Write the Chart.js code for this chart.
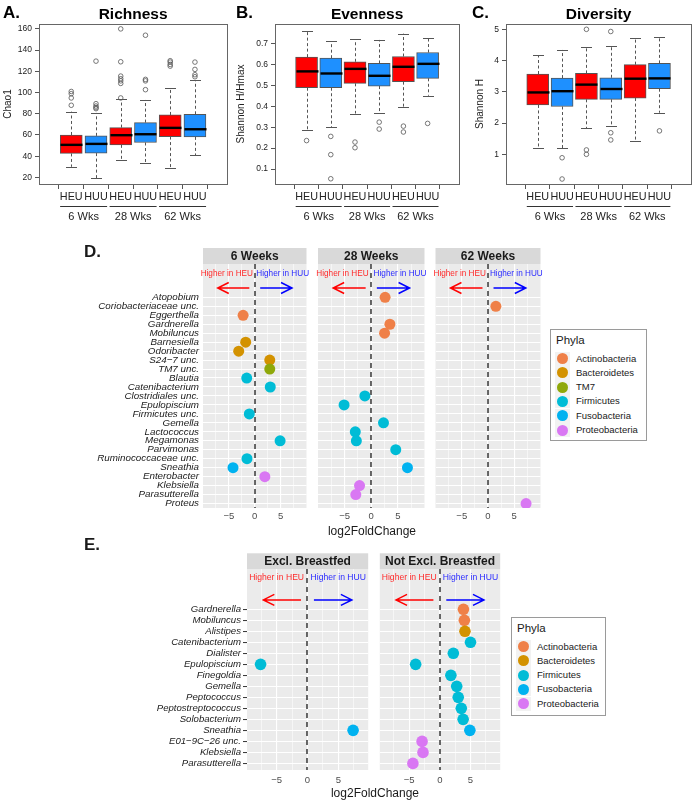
<!DOCTYPE html>
<html>
<head>
<meta charset="utf-8">
<script src="https://cdn.jsdelivr.net/npm/chart.js@4.4.0/dist/chart.umd.min.js"></script>
<style>
    body { margin: 0; background: #fff; width: 696px; height: 803px; position: relative; overflow: hidden;
           font-family: 'Liberation Sans', Arial, sans-serif; color: #1a1a1a; }
    canvas { position: absolute; }
    .txt { position: absolute; white-space: nowrap; z-index: 2; }
    .legend { position: absolute; border: 1px solid #9a9a9a; background: #fff; z-index: 2; }
    .legend .ttl { position: absolute; left: 5px; font-size: 11.5px; line-height: 14px; }
    .legend .key { position: absolute; left: 4px; width: 15px; height: 14px; background: #f2f2f2; }
    .legend .dot { position: absolute; left: 2px; top: 1.5px; width: 11px; height: 11px; border-radius: 50%; }
    .legend .lab { position: absolute; left: 25px; font-size: 9.5px; line-height: 12px; }
</style>
</head>
<body>
<canvas id="chartA" width="232" height="228" style="left:0;top:0"></canvas>
<canvas id="chartB" width="232" height="228" style="left:232px;top:0"></canvas>
<canvas id="chartC" width="232" height="228" style="left:464px;top:0"></canvas>
<canvas id="chartD1" width="312" height="300" style="left:0;top:240px"></canvas>
<canvas id="chartD2" width="118" height="300" style="left:312px;top:240px"></canvas>
<canvas id="chartD3" width="116" height="300" style="left:430px;top:240px"></canvas>
<canvas id="chartE1" width="374" height="250" style="left:0;top:545px"></canvas>
<canvas id="chartE2" width="132" height="250" style="left:374px;top:545px"></canvas>

<div class="txt" style="left:84px;top:243px;font-size:17px;font-weight:bold;line-height:18px">D.</div>
<div class="txt" style="left:84px;top:536px;font-size:17px;font-weight:bold;line-height:18px">E.</div>
<div class="txt" style="left:272px;top:523px;width:200px;text-align:center;font-size:12px;line-height:16px">log2FoldChange</div>
<div class="txt" style="left:275px;top:785px;width:200px;text-align:center;font-size:12px;line-height:16px">log2FoldChange</div>
<div class="legend" id="legendD" style="left:550px;top:329px;width:95px;height:110px"></div>
<div class="legend" id="legendE" style="left:511px;top:617px;width:93px;height:97px"></div>

<script>
// ====== DATA: ALPHA DIVERSITY BOXPLOTS ======
const boxGroups = ['HEU', 'HUU', 'HEU', 'HUU', 'HEU', 'HUU']
const weekLabels = ['6 Wks', '28 Wks', '62 Wks']

// [lower whisker, q1, median, q3, upper whisker]
const richnessStats = [
    [30, 42.6, 50.7, 60, 82],
    [19.4, 42.9, 51.6, 59.2, 80.8],
    [36, 50.7, 59.8, 67, 93.6],
    [33.5, 52.9, 60.7, 71.7, 93],
    [29, 58.5, 66.7, 78.9, 104.6],
    [41, 58.2, 65.4, 79.5, 111.5],
]
const richnessOutliers = [
    [88, 94.9, 98.9, 101],
    [84.8, 85.8, 87.3, 89.5, 129.6],
    [94.9, 108.6, 111, 113, 115.5, 129, 160],
    [102.7, 111, 112.4, 154],
    [124.9, 126.5, 128.7, 130],
    [114.9, 116.8, 121.8, 128.7],
]
const evennessStats = [
    [0.286, 0.488, 0.566, 0.634, 0.76],
    [0.299, 0.488, 0.556, 0.629, 0.71],
    [0.365, 0.509, 0.578, 0.612, 0.72],
    [0.368, 0.496, 0.545, 0.604, 0.716],
    [0.398, 0.517, 0.588, 0.637, 0.746],
    [0.45, 0.533, 0.602, 0.656, 0.725],
]
const evennessOutliers = [
    [0.236],
    [0.256, 0.169, 0.054],
    [0.229, 0.202],
    [0.324, 0.291],
    [0.305, 0.277],
    [0.318],
]
const diversityStats = [
    [1.19, 2.58, 2.98, 3.57, 4.17],
    [1.19, 2.53, 3.02, 3.44, 4.34],
    [1.83, 2.76, 3.23, 3.59, 4.45],
    [1.91, 2.76, 3.09, 3.45, 4.48],
    [1.42, 2.8, 3.42, 3.87, 4.73],
    [2.33, 3.1, 3.43, 3.91, 4.77],
]
const diversityOutliers = [
    [],
    [0.89, 0.21],
    [1.14, 1.0, 5.0],
    [1.69, 1.46, 4.93],
    [],
    [1.75],
]

// ====== DATA: DIFFERENTIAL ABUNDANCE ======
const phyla = ['Actinobacteria', 'Bacteroidetes', 'TM7', 'Firmicutes', 'Fusobacteria', 'Proteobacteria']
const phylaColors = ['#EF8048', '#D39200', '#8FA80A', '#00BCD6', '#00B2F0', '#D977F3']

const dSpecies = [
    'Atopobium', 'Coriobacteriaceae unc.', 'Eggerthella', 'Gardnerella', 'Mobiluncus',
    'Barnesiella', 'Odoribacter', 'S24\u22127 unc.', 'TM7 unc.', 'Blautia',
    'Catenibacterium', 'Clostridiales unc.', 'Epulopiscium', 'Firmicutes unc.', 'Gemella',
    'Lactococcus', 'Megamonas', 'Parvimonas', 'Ruminococcaceae unc.', 'Sneathia',
    'Enterobacter', 'Klebsiella', 'Parasutterella', 'Proteus',
]
const dPhylum = [
    'Actinobacteria', 'Actinobacteria', 'Actinobacteria', 'Actinobacteria', 'Actinobacteria',
    'Bacteroidetes', 'Bacteroidetes', 'Bacteroidetes', 'TM7', 'Firmicutes',
    'Firmicutes', 'Firmicutes', 'Firmicutes', 'Firmicutes', 'Firmicutes',
    'Firmicutes', 'Firmicutes', 'Firmicutes', 'Firmicutes', 'Fusobacteria',
    'Proteobacteria', 'Proteobacteria', 'Proteobacteria', 'Proteobacteria',
]
const dFacets = ['6 Weeks', '28 Weeks', '62 Weeks']
const dWeek6 = [
    ['Eggerthella', -2.25], ['Barnesiella', -1.75], ['Odoribacter', -3.1],
    ['S24\u22127 unc.', 2.9], ['TM7 unc.', 2.9], ['Blautia', -1.55],
    ['Catenibacterium', 3.0], ['Firmicutes unc.', -1.05], ['Megamonas', 4.9],
    ['Ruminococcaceae unc.', -1.5], ['Sneathia', -4.2], ['Enterobacter', 1.95],
]
const dWeek28 = [
    ['Atopobium', 2.6], ['Gardnerella', 3.5], ['Mobiluncus', 2.5],
    ['Clostridiales unc.', -1.2], ['Epulopiscium', -5.1], ['Gemella', 2.3],
    ['Lactococcus', -3.0], ['Megamonas', -2.8], ['Parvimonas', 4.6],
    ['Sneathia', 6.8], ['Klebsiella', -2.2], ['Parasutterella', -2.9],
]
const dWeek62 = [
    ['Coriobacteriaceae unc.', 1.5], ['Proteus', 7.25],
]

const eSpecies = [
    'Gardnerella', 'Mobiluncus', 'Alistipes', 'Catenibacterium', 'Dialister',
    'Epulopiscium', 'Finegoldia', 'Gemella', 'Peptococcus', 'Peptostreptococcus',
    'Solobacterium', 'Sneathia', 'E01\u22129C\u221226 unc.', 'Klebsiella', 'Parasutterella',
]
const ePhylum = [
    'Actinobacteria', 'Actinobacteria', 'Bacteroidetes', 'Firmicutes', 'Firmicutes',
    'Firmicutes', 'Firmicutes', 'Firmicutes', 'Firmicutes', 'Firmicutes',
    'Firmicutes', 'Fusobacteria', 'Proteobacteria', 'Proteobacteria', 'Proteobacteria',
]
const eFacets = ['Excl. Breastfed', 'Not Excl. Breastfed']
const eExcl = [
    ['Epulopiscium', -7.6], ['Sneathia', 7.4],
]
const eNotExcl = [
    ['Gardnerella', 3.85], ['Mobiluncus', 4.0], ['Alistipes', 4.1], ['Catenibacterium', 5.0],
    ['Dialister', 2.2], ['Epulopiscium', -3.95], ['Finegoldia', 1.8], ['Gemella', 2.75],
    ['Peptococcus', 3.0], ['Peptostreptococcus', 3.5], ['Solobacterium', 3.8], ['Sneathia', 4.9],
    ['E01\u22129C\u221226 unc.', -2.9], ['Klebsiella', -2.75], ['Parasutterella', -4.4],
]
const foldTicks = [-7.5, -5, -2.5, 0, 2.5, 5, 7.5]

// ====== CHART DEFAULTS ======
const FONT = "'Liberation Sans', Arial, sans-serif"
Chart.defaults.font.family = FONT
Chart.defaults.animation = false
Chart.defaults.plugins.legend.display = false
Chart.defaults.plugins.tooltip.enabled = false

const minus = (v) => (v < 0 ? '\u2212' + Math.abs(v) : String(v))

// ====== BOXPLOT DECORATION (whiskers, medians, frame, titles) ======
const boxDeco = {
    id: 'boxDeco',
    afterDatasetsDraw(chart, args, o) {
        const { ctx } = chart
        const x = chart.scales.x
        const y = chart.scales.y
        ctx.save()
        o.stats.forEach((s, i) => {
            const px = Math.round(x.getPixelForValue(i + 1)) + 0.5
            ctx.strokeStyle = '#555'
            ctx.lineWidth = 1
            ctx.setLineDash([3, 2.5])
            ctx.beginPath()
            ctx.moveTo(px, y.getPixelForValue(s[3]))
            ctx.lineTo(px, y.getPixelForValue(s[4]))
            ctx.moveTo(px, y.getPixelForValue(s[1]))
            ctx.lineTo(px, y.getPixelForValue(s[0]))
            ctx.stroke()
            ctx.setLineDash([])
            ctx.beginPath()
            for (const v of [s[0], s[4]]) {
                const py = Math.round(y.getPixelForValue(v)) + 0.5
                ctx.moveTo(px - 5.5, py)
                ctx.lineTo(px + 5.5, py)
            }
            ctx.stroke()
            ctx.strokeStyle = '#000'
            ctx.lineWidth = 2.4
            ctx.beginPath()
            const my = y.getPixelForValue(s[2])
            ctx.moveTo(px - 11, my)
            ctx.lineTo(px + 11, my)
            ctx.stroke()
        })
        ctx.restore()
    },
    afterDraw(chart, args, o) {
        const { ctx, chartArea: a } = chart
        const x = chart.scales.x
        ctx.save()
        ctx.strokeStyle = '#666'
        ctx.lineWidth = 1
        ctx.strokeRect(Math.round(a.left) + 0.5, Math.round(a.top) + 0.5,
            Math.round(a.right - a.left), Math.round(a.bottom - a.top))
        ctx.fillStyle = '#000'
        ctx.textBaseline = 'middle'
        ctx.font = 'bold 17px ' + FONT
        ctx.textAlign = 'left'
        ctx.fillText(o.letter, o.letterX, 13)
        ctx.font = 'bold 15.5px ' + FONT
        ctx.textAlign = 'center'
        ctx.fillText(o.title, (a.left + a.right) / 2, 15)
        ctx.font = '11px ' + FONT
        ctx.fillStyle = '#222'
        ctx.strokeStyle = '#333'
        weekLabels.forEach((w, g) => {
            const c = 2 * g + 1.5
            const x0 = x.getPixelForValue(c - 0.95)
            const x1 = x.getPixelForValue(c + 0.95)
            ctx.beginPath()
            ctx.moveTo(x0, a.bottom + 22.5)
            ctx.lineTo(x1, a.bottom + 22.5)
            ctx.stroke()
            ctx.fillText(w, x.getPixelForValue(c), a.bottom + 33)
        })
        ctx.restore()
    },
}

function boxChart(id, cfg) {
    const boxes = cfg.stats.map((s, i) => ({ x: i + 1, y: [s[1], s[3]] }))
    const outs = []
    cfg.outliers.forEach((arr, i) => arr.forEach((v) => outs.push({ x: i + 1, y: v })))
    return new Chart(document.getElementById(id), {
        type: 'bar',
        data: {
            datasets: [
                {
                    type: 'bar',
                    data: boxes,
                    backgroundColor: boxGroups.map((g) => (g === 'HEU' ? '#FF0000' : '#1E90FF')),
                    borderColor: '#555',
                    borderWidth: 1,
                    borderSkipped: false,
                    barThickness: 22,
                },
                {
                    type: 'scatter',
                    data: outs,
                    pointRadius: 2.3,
                    borderWidth: 0.8,
                    borderColor: '#555',
                    backgroundColor: 'rgba(0,0,0,0)',
                },
            ],
        },
        options: {
            responsive: false,
            layout: { padding: { left: 0, top: 24, right: cfg.padRight, bottom: 4 } },
            plugins: {
                boxDeco: { stats: cfg.stats, title: cfg.title, letter: cfg.letter, letterX: cfg.letterX },
            },
            scales: {
                x: {
                    type: 'linear',
                    min: 0.33,
                    max: 6.67,
                    afterFit: (s) => { s.height = 40 },
                    afterBuildTicks: (s) => { s.ticks = boxGroups.map((_, i) => ({ value: i + 1 })) },
                    ticks: {
                        callback: (v) => boxGroups[Math.round(v) - 1],
                        autoSkip: false, maxRotation: 0, padding: 2,
                        color: '#222', font: { size: 10.8 },
                    },
                    grid: { drawOnChartArea: false, tickLength: 5, color: '#555' },
                    border: { display: false },
                },
                y: {
                    type: 'linear',
                    min: cfg.yMin,
                    max: cfg.yMax,
                    afterFit: (s) => { s.width = cfg.yWidth },
                    afterBuildTicks: (s) => { s.ticks = cfg.yTicks.map((v) => ({ value: v })) },
                    ticks: { callback: cfg.yFormat, color: '#222', font: { size: 8.5 }, padding: 3 },
                    grid: { drawOnChartArea: false, tickLength: 4, color: '#555' },
                    border: { display: false },
                    title: {
                        display: true, text: cfg.yTitle, color: '#222',
                        font: { size: 10 }, padding: { top: cfg.titlePad, bottom: 0 },
                    },
                },
            },
        },
        plugins: [boxDeco],
    })
}

boxChart('chartA', {
    stats: richnessStats, outliers: richnessOutliers, title: 'Richness', letter: 'A.', letterX: 3,
    yMin: 13.8, yMax: 164.6, yTicks: [20, 40, 60, 80, 100, 120, 140, 160], yFormat: (v) => String(v),
    yTitle: 'Chao1', yWidth: 39, titlePad: 2, padRight: 2,
})
boxChart('chartB', {
    stats: evennessStats, outliers: evennessOutliers, title: 'Evenness', letter: 'B.', letterX: 4,
    yMin: 0.029, yMax: 0.792, yTicks: [0.1, 0.2, 0.3, 0.4, 0.5, 0.6, 0.7], yFormat: (v) => v.toFixed(1),
    yTitle: 'Shannon H/Hmax', yWidth: 43, titlePad: 3.7, padRight: 2,
})
boxChart('chartC', {
    stats: diversityStats, outliers: diversityOutliers, title: 'Diversity', letter: 'C.', letterX: 8,
    yMin: 0.05, yMax: 5.17, yTicks: [1, 2, 3, 4, 5], yFormat: (v) => String(v),
    yTitle: 'Shannon H', yWidth: 42, titlePad: 10.7, padRight: 3,
})

// ====== FACET DECORATION (panel bg, strip, zero line, arrows) ======
const facetDeco = {
    id: 'facetDeco',
    beforeDraw(chart, args, o) {
        const { ctx, chartArea: a } = chart
        ctx.save()
        ctx.fillStyle = '#EBEBEB'
        ctx.fillRect(a.left, a.top, a.right - a.left, a.bottom - a.top)
        ctx.fillStyle = '#D9D9D9'
        ctx.fillRect(a.left, a.top - o.stripH, a.right - a.left, o.stripH)
        ctx.fillStyle = '#1A1A1A'
        ctx.font = 'bold 12px ' + FONT
        ctx.textAlign = 'center'
        ctx.textBaseline = 'middle'
        ctx.fillText(o.strip, (a.left + a.right) / 2, a.top - o.stripH / 2 + 0.5)
        ctx.restore()
    },
    beforeDatasetsDraw(chart, args, o) {
        const { ctx, chartArea: a } = chart
        const x = chart.scales.x
        const y = chart.scales.y
        ctx.save()
        const x0 = Math.round(x.getPixelForValue(0))
        ctx.strokeStyle = '#1A1A1A'
        ctx.lineWidth = 1.3
        ctx.setLineDash([5, 4])
        ctx.beginPath()
        ctx.moveTo(x0, a.top)
        ctx.lineTo(x0, a.bottom)
        ctx.stroke()
        ctx.setLineDash([])
        const ay = y.getPixelForValue(o.arrowRow)
        const arrow = (from, to, col) => {
            const fx = x.getPixelForValue(from)
            const tx = x.getPixelForValue(to)
            const dir = Math.sign(tx - fx)
            ctx.strokeStyle = col
            ctx.lineWidth = 1.5
            ctx.beginPath()
            ctx.moveTo(fx, ay)
            ctx.lineTo(tx, ay)
            ctx.moveTo(tx - dir * 11, ay - 5.5)
            ctx.lineTo(tx, ay)
            ctx.lineTo(tx - dir * 11, ay + 5.5)
            ctx.stroke()
        }
        arrow(-1.05, -7.15, '#FF0000')
        arrow(1.05, 7.2, '#0000FF')
        const ty = y.getPixelForValue(o.textRow)
        ctx.font = o.textSize + 'px ' + FONT
        ctx.textAlign = 'center'
        ctx.textBaseline = 'middle'
        ctx.fillStyle = '#FF2A2A'
        ctx.fillText('Higher in HEU', x.getPixelForValue(-o.textX), ty)
        ctx.fillStyle = '#2A2AFF'
        ctx.fillText('Higher in HUU', x.getPixelForValue(o.textX), ty)
        ctx.restore()
    },
}

function facetChart(id, o) {
    const el = document.getElementById(id)
    const W = el.width
    const H = el.height
    const xh = 20
    const pts = o.points.map((p) => ({ x: p[1], y: o.species.indexOf(p[0]) }))
    const cols = o.points.map((p) => phylaColors[phyla.indexOf(o.phylum[o.species.indexOf(p[0])])])
    return new Chart(el, {
        type: 'scatter',
        data: {
            datasets: [{ data: pts, backgroundColor: cols, borderWidth: 0, pointRadius: o.radius }],
        },
        options: {
            responsive: false,
            layout: {
                padding: {
                    left: o.area[0] - o.yWidth,
                    top: o.area[1],
                    right: W - o.area[2],
                    bottom: H - o.area[3] - xh,
                },
            },
            plugins: {
                facetDeco: {
                    strip: o.strip, stripH: o.stripH, arrowRow: o.arrowRow, textRow: o.textRow,
                    textX: o.textX, textSize: o.textSize,
                },
            },
            scales: {
                x: {
                    type: 'linear',
                    min: o.xRange[0],
                    max: o.xRange[1],
                    afterFit: (s) => { s.height = xh },
                    afterBuildTicks: (s) => { s.ticks = foldTicks.map((v) => ({ value: v })) },
                    ticks: {
                        callback: (v) => (v % 5 === 0 ? minus(v) : ''),
                        autoSkip: false, maxRotation: 0, padding: o.xPad,
                        color: '#4D4D4D', font: { size: 9.5 },
                    },
                    grid: {
                        color: '#FFFFFF',
                        lineWidth: (c) => (c.tick && c.tick.value % 5 === 0 ? 1.1 : 0.55),
                        drawTicks: false,
                    },
                    border: { display: false },
                },
                y: {
                    type: 'linear',
                    reverse: true,
                    min: o.rows[0],
                    max: o.rows[1],
                    afterFit: (s) => { s.width = o.yWidth },
                    afterBuildTicks: (s) => { s.ticks = o.species.map((_, i) => ({ value: i })) },
                    ticks: {
                        display: o.showY,
                        callback: (v) => o.species[v],
                        autoSkip: false, padding: o.yPad,
                        color: '#1A1A1A', font: { size: o.yFont, style: 'italic' },
                    },
                    grid: {
                        color: '#FFFFFF', lineWidth: 1.1,
                        drawTicks: o.showY && o.yTick > 0, tickLength: o.yTick, tickColor: '#333', tickWidth: 1,
                    },
                    border: { display: false },
                },
            },
        },
        plugins: [facetDeco],
    })
}

const dCommon = {
    species: dSpecies, phylum: dPhylum, rows: [-3.72, 23.5], xRange: [-10, 10],
    stripH: 16, arrowRow: -1.04, textRow: -2.6, textX: 5.4, textSize: 8.2,
    radius: 5.5, xPad: 3, yPad: 4, yFont: 9.8, yTick: 0,
}
facetChart('chartD1', { ...dCommon, strip: dFacets[0], points: dWeek6, area: [203, 24, 310, 268], yWidth: 203, showY: true })
facetChart('chartD2', { ...dCommon, strip: dFacets[1], points: dWeek28, area: [6, 24, 114, 268], yWidth: 0, showY: false })
facetChart('chartD3', { ...dCommon, strip: dFacets[2], points: dWeek62, area: [4, 24, 111, 268], yWidth: 0, showY: false })

const eCommon = {
    species: eSpecies, phylum: ePhylum, rows: [-3.66, 14.6], xRange: [-9.8, 9.85],
    stripH: 15.7, arrowRow: -0.85, textRow: -2.92, textX: 5, textSize: 8.6,
    radius: 5.8, xPad: 5, yPad: 2, yFont: 9.6, yTick: 4,
}
facetChart('chartE1', { ...eCommon, strip: eFacets[0], points: eExcl, area: [247, 24, 372, 225], yWidth: 247, showY: true })
facetChart('chartE2', { ...eCommon, strip: eFacets[1], points: eNotExcl, area: [3, 24, 128, 225], yWidth: 0, showY: false })

// ====== LEGENDS ======
function buildLegend(id, names, titleTop, firstTop, step) {
    const box = document.getElementById(id)
    let html = `<div class="ttl" style="top:${titleTop}px">Phyla</div>`
    names.forEach((n, i) => {
        const cy = firstTop + i * step
        const col = phylaColors[phyla.indexOf(n)]
        html += `<div class="key" style="top:${cy - 7}px"><div class="dot" style="background:${col}"></div></div>`
        html += `<div class="lab" style="top:${cy - 6}px">${n}</div>`
    })
    box.innerHTML = html
}
buildLegend('legendD', phyla, 3, 28.5, 14.3)
buildLegend('legendE', phyla.filter((p) => p !== 'TM7'), 3, 28.5, 14.3)
</script>
</body>
</html>
